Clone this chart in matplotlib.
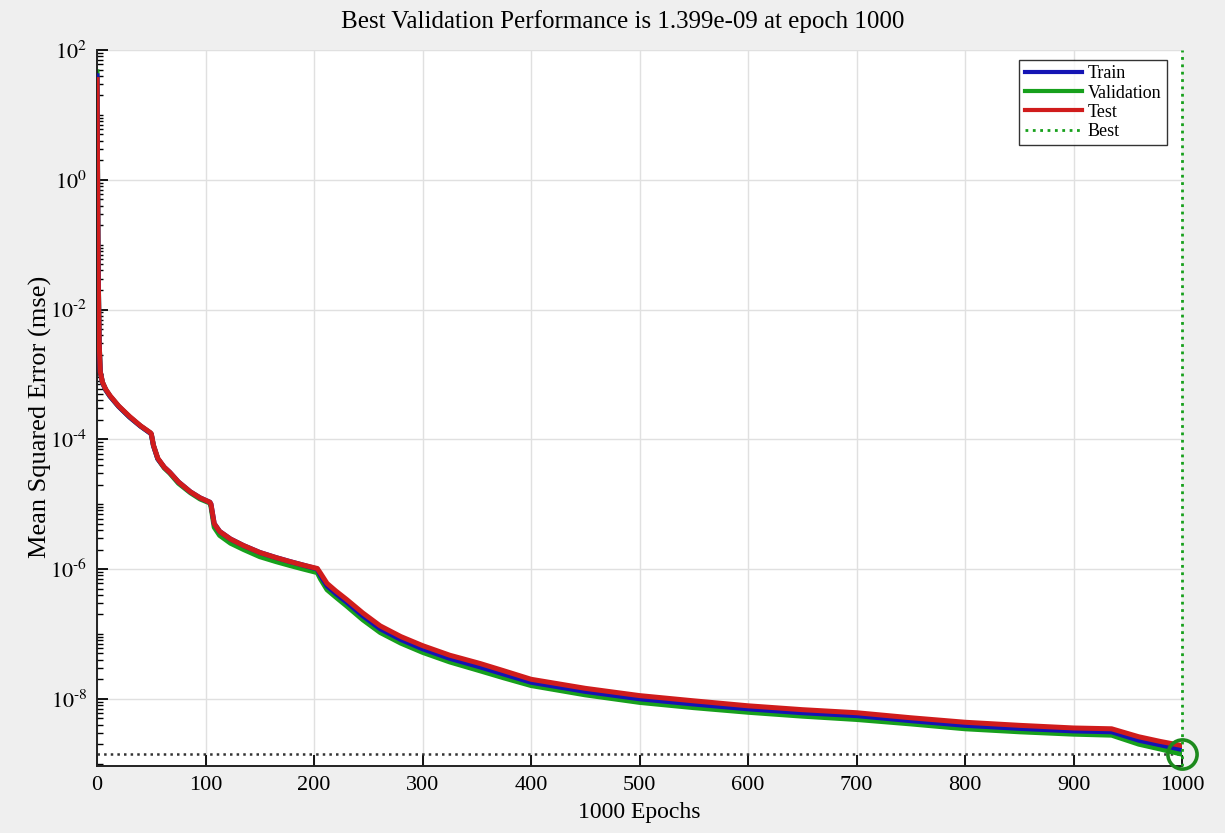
import numpy as np
import matplotlib
matplotlib.use("Agg")
import matplotlib.pyplot as plt
from matplotlib.ticker import FixedLocator, LogLocator, NullFormatter

plt.rcParams['font.family'] = ['Liberation Serif', 'DejaVu Serif']
plt.rcParams['mathtext.fontset'] = 'stix'

epochs = [0, 1, 2, 3, 5, 8, 12, 20, 30, 40, 49, 50, 52, 56, 62, 67, 75, 86, 95, 104,
          105, 108, 113, 123, 135, 150, 165, 178, 190, 203, 206, 212, 220, 230, 245,
          261, 280, 300, 325, 353, 375, 400, 450, 500, 550, 600, 650, 700, 750, 800,
          850, 900, 935, 960, 980, 1000]

train = [40, 5e-2, 3e-3, 1.1e-3, 7.5e-4, 5.8e-4, 4.6e-4, 3.2e-4, 2.2e-4, 1.6e-4,
         1.25e-4, 1.2e-4, 8e-5, 5e-5, 3.7e-5, 3.1e-5, 2.2e-5, 1.55e-5, 1.25e-5, 1.07e-5,
         1.0e-5, 5e-6, 3.8e-6, 2.9e-6, 2.3e-6, 1.8e-6, 1.5e-6, 1.3e-6, 1.15e-6, 1.0e-6,
         8e-7, 5.5e-7, 4.2e-7, 3.1e-7, 1.9e-7, 1.2e-7, 8.2e-8, 5.9e-8, 4.2e-8, 3.1e-8,
         2.4e-8, 1.8e-8, 1.3e-8, 1.0e-8, 8.3e-9, 7.0e-9, 6.1e-9, 5.5e-9, 4.6e-9, 3.9e-9,
         3.5e-9, 3.2e-9, 3.1e-9, 2.3e-9, 1.95e-9, 1.65e-9]

validation = [46, 5.5e-2, 3.1e-3, 1.1e-3, 7.5e-4, 5.8e-4, 4.6e-4, 3.2e-4, 2.2e-4, 1.6e-4,
              1.25e-4, 1.2e-4, 8e-5, 5e-5, 3.6e-5, 3.0e-5, 2.1e-5, 1.5e-5, 1.2e-5, 1.04e-5,
              9.2e-6, 4.4e-6, 3.3e-6, 2.5e-6, 2.0e-6, 1.55e-6, 1.3e-6, 1.13e-6, 1.0e-6, 8.8e-7,
              7.0e-7, 4.8e-7, 3.7e-7, 2.7e-7, 1.65e-7, 1.05e-7, 7.2e-8, 5.2e-8, 3.7e-8, 2.7e-8,
              2.1e-8, 1.6e-8, 1.15e-8, 8.8e-9, 7.3e-9, 6.2e-9, 5.4e-9, 4.8e-9, 4.1e-9, 3.45e-9,
              3.1e-9, 2.85e-9, 2.75e-9, 2.0e-9, 1.68e-9, 1.399e-9]

test = [35, 4.5e-2, 3e-3, 1.1e-3, 7.6e-4, 5.9e-4, 4.7e-4, 3.25e-4, 2.25e-4, 1.62e-4,
        1.27e-4, 1.22e-4, 8.1e-5, 5.1e-5, 3.7e-5, 3.1e-5, 2.2e-5, 1.55e-5, 1.25e-5, 1.07e-5,
        1.0e-5, 5e-6, 3.8e-6, 2.9e-6, 2.3e-6, 1.8e-6, 1.5e-6, 1.3e-6, 1.15e-6, 1.02e-6,
        8.6e-7, 6.0e-7, 4.6e-7, 3.4e-7, 2.1e-7, 1.33e-7, 9.1e-8, 6.6e-8, 4.7e-8, 3.5e-8,
        2.7e-8, 2.0e-8, 1.45e-8, 1.12e-8, 9.3e-9, 7.8e-9, 6.8e-9, 6.1e-9, 5.1e-9, 4.35e-9,
        3.9e-9, 3.55e-9, 3.45e-9, 2.6e-9, 2.2e-9, 1.9e-9]

best_epoch = 1000
best_value = 1.399e-9
title = "Best Validation Performance is 1.399e-09 at epoch 1000"
xlabel = "1000 Epochs"
ylabel = "Mean Squared Error (mse)"
x_ticks = [0, 100, 200, 300, 400, 500, 600, 700, 800, 900, 1000]
y_ticks = [1e2, 1e0, 1e-2, 1e-4, 1e-6, 1e-8]
y_ticklabels = [r"$10^{2}$", r"$10^{0}$", r"$10^{\text{-}2}$", r"$10^{\text{-}4}$",
                r"$10^{\text{-}6}$", r"$10^{\text{-}8}$"]

fig = plt.figure(figsize=(12.25, 8.33), dpi=100)
fig.patch.set_facecolor('#efefef')
ax = fig.add_axes([0.0792, 0.0804, 0.9858 - 0.0792 - 0.0208, 0.94 - 0.0804])
ax.set_facecolor('white')

lw = 3.6
ax.plot(epochs, train, color='#1414b4', lw=lw, label='Train', zorder=3)
ax.plot(epochs, validation, color='#17a01c', lw=lw, label='Validation', zorder=2)
ax.plot(epochs, test, color='#d01c1c', lw=lw, label='Test', zorder=4)
ax.axvline(best_epoch, color='#17a01c', ls=':', lw=2.0, label='Best', zorder=5,
           clip_on=False)
ax.axhline(best_value, color='#333333', ls=':', lw=1.8, zorder=1)
ax.plot([best_epoch], [best_value], marker='o', ms=21, mfc='none', mec='#1d8a1d',
        mew=2.6, zorder=6, clip_on=False)

ax.set_yscale('log')
ax.set_xlim(0, 1000)
ax.set_ylim(9.2e-10, 1e2)

ax.xaxis.set_major_locator(FixedLocator(x_ticks))
ax.yaxis.set_major_locator(FixedLocator(y_ticks))
ax.set_yticklabels(y_ticklabels)
ax.yaxis.set_minor_locator(LogLocator(base=10, subs=np.arange(1, 10), numticks=100))
ax.yaxis.set_minor_formatter(NullFormatter())

ax.tick_params(axis='both', which='major', direction='in', length=8, width=1.3,
               labelsize=16, pad=7)
ax.tick_params(axis='y', which='minor', direction='in', length=4, width=1.0)
ax.tick_params(axis='x', which='minor', bottom=False)

ax.grid(True, which='major', color='#e0e0e0', lw=1.0)
ax.set_axisbelow(True)

for s in ['top', 'right']:
    ax.spines[s].set_visible(False)
for s in ['left', 'bottom']:
    ax.spines[s].set_linewidth(1.4)
    ax.spines[s].set_color('#222222')

ax.set_title(title, fontsize=18, pad=16, x=0.484)
ax.set_xlabel(xlabel, fontsize=17, labelpad=5)
ax.set_ylabel(ylabel, fontsize=19)
ax.yaxis.set_label_coords(-0.0415, 0.488)

leg = ax.legend(loc='upper right', fontsize=13, handlelength=3.2, frameon=True,
                fancybox=False, edgecolor='black', borderpad=0.3, labelspacing=0.12,
                handletextpad=0.3, borderaxespad=0.0, bbox_to_anchor=(0.986, 0.986))
leg.get_frame().set_linewidth(1.0)
for line in leg.get_lines():
    if line.get_linestyle() != ':':
        line.set_linewidth(3.0)

fig.savefig('out.png', dpi=100, facecolor=fig.get_facecolor())
